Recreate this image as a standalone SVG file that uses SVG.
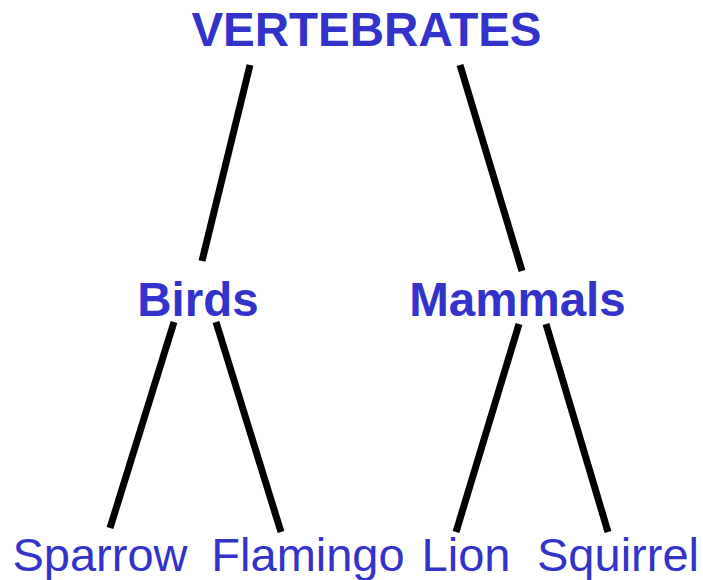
<svg xmlns="http://www.w3.org/2000/svg" width="703" height="580" viewBox="0 0 703 580">
<style>
.t{fill:#3333CC;font-family:"Liberation Sans",Arial,sans-serif;font-size:47px}
.b{font-weight:bold;font-size:47.5px}
.c line{stroke:#000;stroke-width:7}
</style>
<rect width="703" height="580" fill="#fff"/>
<g class="c" id="connectors">
<line x1="250" y1="65" x2="202" y2="261"/>
<line x1="460" y1="65" x2="522" y2="271"/>
<line x1="174" y1="322" x2="110" y2="528"/>
<line x1="216" y1="322" x2="281" y2="532"/>
<line x1="519" y1="324" x2="456" y2="532"/>
<line x1="546" y1="324" x2="608" y2="532"/>
</g>
<g id="vertebrates"><text class="t b" x="366.5" y="46" text-anchor="middle">VERTEBRATES</text></g>
<g id="birds"><text class="t b" x="198" y="316" text-anchor="middle">Birds</text></g>
<g id="mammals"><text class="t b" x="517.5" y="316" text-anchor="middle">Mammals</text></g>
<g id="sparrow"><text class="t" x="100" y="571" text-anchor="middle">Sparrow</text></g>
<g id="flamingo"><text class="t" x="308" y="571" text-anchor="middle">Flamingo</text></g>
<g id="lion"><text class="t" x="466" y="571" text-anchor="middle">Lion</text></g>
<g id="squirrel"><text class="t" x="618" y="571" text-anchor="middle">Squirrel</text></g>
</svg>
